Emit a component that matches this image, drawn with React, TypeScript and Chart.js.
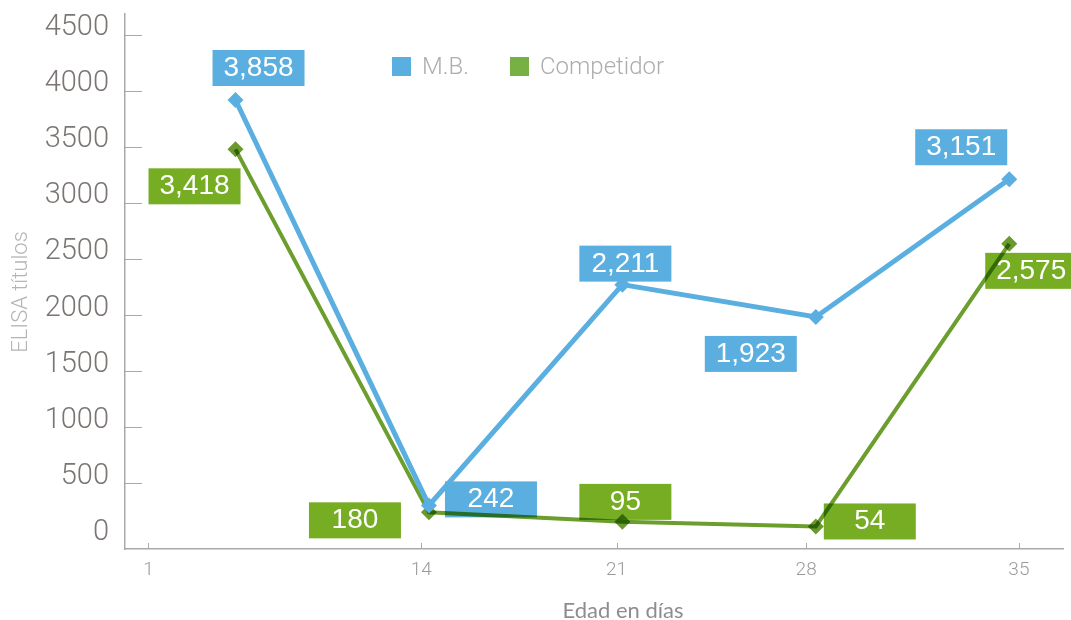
import React, { useEffect, useRef } from 'react';
import { Chart, registerables } from 'chart.js';

Chart.register(...registerables);

// ---- data ----
const X_TICK_LABELS = ['1', '14', '21', '28', '35'];
const POINT_INDEX = [0, 1, 2, 3, 4];
const MB_VALUES = [3858, 242, 2211, 1923, 3151];
const COMP_VALUES = [3418, 180, 95, 54, 2575];
const Y_TICKS = [0, 500, 1000, 1500, 2000, 2500, 3000, 3500, 4000, 4500];
const SERIES_NAMES = ['M.B.', 'Competidor'];
const Y_TITLE = 'ELISA títulos';
const X_TITLE = 'Edad en días';

// ---- layout config (not data) ----
const X_TICK_POS = [-0.45, 0.96, 1.97, 2.95, 4.05];
const MB_LABEL_OFFSETS = [[23, -32], [62, -6], [3, -21], [-65, 37], [-48, -32]];
const COMP_LABEL_OFFSETS = [[-41, 37], [-74, 8], [3, -20], [54, -5], [22, 27]];

const BLUE = '#5aafe0';
const GREEN_BOX = '#76ad22';
const GREEN_LINE = '#6b9e2c';
const GREEN_LEGEND = '#78b143';
const AXIS = '#a9a9a9';

const LIGHT = '"Roboto", "Liberation Sans", sans-serif';

const labelPlugin = {
  id: 'valueBoxes',
  beforeDatasetsDraw(chart: any) {
    const ctx = chart.ctx;
    const offsets = [MB_LABEL_OFFSETS, COMP_LABEL_OFFSETS];
    const colors = [BLUE, GREEN_BOX];
    ctx.save();
    chart.data.datasets.forEach((ds: any, i: number) => {
      const meta = chart.getDatasetMeta(i);
      meta.data.forEach((pt: any, j: number) => {
        const [dx, dy] = offsets[i][j];
        const cx = pt.x + dx;
        const cy = pt.y + dy;
        ctx.fillStyle = colors[i];
        ctx.fillRect(cx - 46, cy - 18, 92, 36);
        ctx.fillStyle = '#ffffff';
        ctx.font = '28px "Liberation Sans", Arial, sans-serif';
        ctx.textAlign = 'center';
        ctx.textBaseline = 'alphabetic';
        const v = ds.data[j].y as number;
        ctx.fillText(v.toLocaleString('en-US'), cx, cy + 8);
      });
    });
    ctx.restore();
  },
};

const blendPlugin = {
  id: 'blend',
  beforeDatasetDraw(chart: any, args: any) {
    if (args.index === 1) {
      chart.ctx.save();
      chart.ctx.globalCompositeOperation = 'multiply';
    }
  },
  afterDatasetDraw(chart: any, args: any) {
    if (args.index === 1) chart.ctx.restore();
  },
};

const decorPlugin = {
  id: 'decor',
  afterDraw(chart: any) {
    const ctx = chart.ctx;
    const { left, bottom } = chart.chartArea;
    const y = chart.scales.y;
    const x = chart.scales.x;
    ctx.save();
    // y tick marks (inside)
    ctx.strokeStyle = AXIS;
    ctx.lineWidth = 1;
    Y_TICKS.filter((v) => v > 0).forEach((v) => {
      const py = Math.round(y.getPixelForValue(v) + 6.5) + 0.5;
      ctx.beginPath();
      ctx.moveTo(left, py);
      ctx.lineTo(left + 17, py);
      ctx.stroke();
    });
    // x tick marks (inside)
    X_TICK_POS.forEach((v) => {
      const px = Math.round(x.getPixelForValue(v)) + 0.5;
      ctx.beginPath();
      ctx.moveTo(px, bottom - 6);
      ctx.lineTo(px, bottom);
      ctx.stroke();
    });
    // legend
    const legendColors = [BLUE, GREEN_LEGEND];
    const legendX = [392, 510];
    ctx.font = `300 24px ${LIGHT}`;
    ctx.textAlign = 'left';
    ctx.textBaseline = 'alphabetic';
    chart.data.datasets.forEach((ds: any, i: number) => {
      ctx.fillStyle = legendColors[i];
      ctx.fillRect(legendX[i], 57, 19, 19);
      ctx.fillStyle = '#adadad';
      ctx.fillText(ds.label, legendX[i] + 30, 74);
    });
    // axis titles
    ctx.fillStyle = '#8d8d8d';
    ctx.font = '22px "Lato", "Liberation Sans", sans-serif';
    ctx.textAlign = 'center';
    ctx.fillText(X_TITLE, 623, 618);
    ctx.translate(27, 292);
    ctx.rotate(-Math.PI / 2);
    ctx.fillStyle = '#b5b5b5';
    ctx.font = '300 22px ' + LIGHT;
    ctx.fillText(Y_TITLE, 0, 0);
    ctx.restore();
  },
};

export default function App() {
  const ref = useRef<HTMLCanvasElement | null>(null);

  useEffect(() => {
    if (!ref.current) return;
    const chart = new Chart(ref.current, {
      type: 'line',
      data: {
        datasets: [
          {
            label: SERIES_NAMES[0],
            data: POINT_INDEX.map((i) => ({ x: i, y: MB_VALUES[i] })),
            borderColor: BLUE,
            backgroundColor: BLUE,
            borderWidth: 5,
            pointStyle: 'rectRot',
            pointRadius: 8,
            pointBorderWidth: 0,
            pointBackgroundColor: BLUE,
            tension: 0,
          },
          {
            label: SERIES_NAMES[1],
            data: POINT_INDEX.map((i) => ({ x: i, y: COMP_VALUES[i] })),
            borderColor: GREEN_LINE,
            backgroundColor: GREEN_LINE,
            borderWidth: 4,
            pointStyle: 'rectRot',
            pointRadius: 8,
            pointBorderWidth: 0,
            pointBackgroundColor: '#6a9a2b',
            tension: 0,
          },
        ],
      },
      options: {
        animation: false,
        responsive: false,
        maintainAspectRatio: false,
        layout: { padding: { top: 14, right: 4, left: 0, bottom: 0 } },
        plugins: {
          legend: { display: false },
          tooltip: { enabled: false },
        },
        scales: {
          x: {
            type: 'linear',
            min: -0.5714,
            max: 4.278,
            afterFit: (s: any) => {
              s.height = 71;
              s.paddingLeft = 0;
              s.paddingRight = 0;
            },
            afterBuildTicks: (s: any) => {
              s.ticks = X_TICK_POS.map((v) => ({ value: v }));
            },
            grid: { display: false, drawTicks: false },
            border: { display: true, color: AXIS, width: 1.5 },
            ticks: {
              autoSkip: false,
              maxRotation: 0,
              padding: 10,
              color: '#9b9b9b',
              font: { family: LIGHT, size: 19, weight: '300' },
              callback: (_v: any, idx: number) => X_TICK_LABELS[idx],
            },
          },
          y: {
            type: 'linear',
            min: -147,
            max: 4625,
            afterFit: (s: any) => {
              s.width = 125;
              s.paddingTop = 0;
              s.paddingBottom = 0;
            },
            afterBuildTicks: (s: any) => {
              s.ticks = Y_TICKS.map((v) => ({ value: v }));
            },
            grid: { display: false, drawTicks: false },
            border: { display: true, color: AXIS, width: 1.5 },
            ticks: {
              padding: 16,
              color: '#7b7673',
              font: { family: LIGHT, size: 29, weight: '300', lineHeight: 1 },
              callback: (v: any) => String(v),
            },
          },
        },
      },
      plugins: [labelPlugin, blendPlugin, decorPlugin],
    } as any);
    return () => chart.destroy();
  }, []);

  return (
    <div style={{ position: 'fixed', left: 0, top: 0, width: 1071, height: 620, background: '#fff' }}>
      <canvas ref={ref} width={1071} height={620} style={{ display: 'block', width: 1071, height: 620 }} />
    </div>
  );
}
